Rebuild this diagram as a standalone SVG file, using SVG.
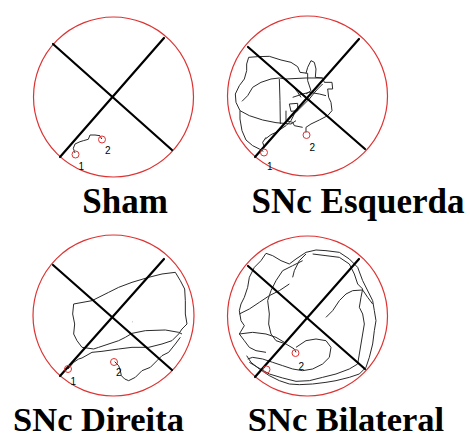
<svg xmlns="http://www.w3.org/2000/svg" width="470" height="437" viewBox="0 0 470 437">
<style>
.arena{fill:none;stroke:#dd3333;stroke-width:1.2}
.cross{stroke:#000;stroke-width:2.2;stroke-linecap:round}
.trace{fill:none;stroke:#2a2a2a;stroke-width:1;stroke-linejoin:round;vector-effect:non-scaling-stroke}
.mark{fill:none;stroke:#dd3333;stroke-width:1}
.num{font-family:"Liberation Sans",Arial,sans-serif;font-size:10px;fill:#000}
.title{font-family:"Liberation Serif","Times New Roman",serif;font-weight:bold;font-size:35px;fill:#000;text-anchor:middle}
.low{font-size:34.5px}
</style>
<rect width="470" height="437" fill="#fff"/>

<g id="sham">
<circle class="arena" cx="113.5" cy="97" r="80"/>
<line class="cross" x1="53" y1="44" x2="172" y2="150"/>
<line class="cross" x1="164" y1="38" x2="60" y2="157"/>
<path class="trace" d="M75,153 L73.3,148.3 L75,144 L80,141.7 L83.3,140.7 L88.3,139.3 L90,135 L95,135 L100,135.7 L101.7,139"/>
<circle class="mark" cx="75.5" cy="154.5" r="3.5"/>
<circle class="mark" cx="102" cy="139.5" r="3.5"/>
<text class="num" x="78.5" y="170">1</text>
<text class="num" x="105" y="154">2</text>
<text class="title" x="125" y="213">Sham</text>
</g>

<g id="snc-esquerda">
<circle class="arena" cx="307.5" cy="96" r="80"/>
<g transform="translate(226,14) scale(0.33333)">
<path class="trace" d="M112,412 L100,405 L80,395 L60,378 L48,350 L42,315 L42,290 L30,265 L28,240 L40,215 L55,195 L62,170 L62,150 L68,130 L95,128 L130,127 L165,138 L195,145 L215,158 L222,175 L245,178 L245,200 L255,230 L240,240"/>
<path class="trace" d="M42,290 L70,305 L110,318 L150,326 L195,330 L210,320"/>
<path class="trace" d="M48,262 L65,245 L80,220 L105,205 L135,195 L160,192 L180,195 L200,215 L215,235 L225,250"/>
<path class="trace" d="M160,195 L162,260 L163,330"/>
<path class="trace" d="M240,178 L245,160 L255,140 L265,145 L270,165 L268,190 L290,192 L295,205 L318,205 L320,225 L305,225 L308,250 L315,265 L318,290 L305,305 L280,318 L255,330 L240,340 L240,356"/>
<path class="trace" d="M180,195 L240,192 L290,192"/>
<path class="trace" d="M190,270 L215,268 L215,290 L195,292 Z M180,290 L180,320 L200,325 L205,335 L230,340"/>
<path class="trace" d="M118,375 L135,362 L150,355 L165,345 L180,335 L195,320 L205,300 L220,285 L235,270 L250,255 L262,240 L275,225 L290,210"/>
<path class="trace" d="M120,370 L110,385 L115,400"/>
<path class="trace" d="M200,250 L230,240 L250,235 L280,240 L300,245"/>
</g>
<line class="cross" x1="248" y1="47" x2="365" y2="149"/>
<line class="cross" x1="359" y1="39" x2="255" y2="157"/>
<circle class="mark" cx="264" cy="152.5" r="3.5"/>
<circle class="mark" cx="306.5" cy="135" r="3.5"/>
<text class="num" x="267" y="170">1</text>
<text class="num" x="309.5" y="151">2</text>
<text class="title" x="358" y="213">SNc Esquerda</text>
</g>

<g id="snc-direita">
<circle class="arena" cx="113.5" cy="315.5" r="80.5"/>
<g transform="translate(32,234) scale(0.33333)">
<path class="trace" d="M125,210 L180,200 L230,175 L260,160 L300,145 L350,130 L390,120 L430,115 L445,140 L458,165 L460,200 L460,240 L465,270 L450,285 L440,300 L420,320 L390,330 L350,340 L300,340 L260,345 L210,352 L180,355 L150,372 L140,375 L125,385 L108,405"/>
<path class="trace" d="M125,210 L122,240 L128,270 L125,300 L135,320 L150,340 L185,345 L200,340 L260,320 L280,310 L300,298 L340,290 L400,288 L440,295 L450,300"/>
<path class="trace" d="M248,383 L260,395 L265,410 L268,425 L278,435 L290,440 L310,430 L330,410 L355,400 L375,380 L390,365 L410,355 L430,330 L445,310"/>
<path class="trace" d="M300,262 L301,263"/>
</g>
<line class="cross" x1="53" y1="265" x2="172" y2="370"/>
<line class="cross" x1="164" y1="259" x2="60" y2="376"/>
<circle class="mark" cx="68" cy="369" r="3.5"/>
<circle class="mark" cx="114" cy="362" r="3.5"/>
<text class="num" x="70.5" y="385">1</text>
<text class="num" x="116" y="376" font-size="8">2</text>
<text class="title low" x="98.5" y="430.5">SNc Direita</text>
</g>

<g id="snc-bilateral">
<circle class="arena" cx="307.5" cy="316" r="80"/>
<g transform="translate(226,234) scale(0.33333)">
<path class="trace" d="M120,58 L140,65 L165,80 L190,90 L210,75 L240,55 L270,48 L300,50 L340,55 L370,75 L395,100 L410,140 L430,180 L440,200 L445,230 L450,260 L445,290 L440,330 L430,370 L420,400 L400,420 L370,430 L330,440 L300,445 L260,450 L220,452 L190,450 L160,440 L130,425 L100,405 L75,385 L62,365"/>
<path class="trace" d="M120,58 L105,80 L85,100 L70,130 L65,160 L55,190 L45,210 L40,230 L45,260 L55,275 L40,300 L55,320 L70,340 L90,350 L120,355"/>
<path class="trace" d="M230,80 L200,95 L170,110 L150,140 L135,170 L125,200 L130,240 L128,270 L135,300 L150,320 L180,330 L205,345 L210,355"/>
<path class="trace" d="M260,60 L300,65 L340,70 L370,90 L385,120 L395,150 L410,165 L405,190 L400,220 L410,240 L415,270 L410,300 L405,330 L400,360 L395,390 L370,405 L330,420 L290,430 L250,440 L210,442 L170,432 L130,420 L95,400 L70,385"/>
<path class="trace" d="M210,340 L240,320 L270,315 L300,320 L315,340 L310,370 L290,390 L260,405 L230,410 L200,405 L170,395 L140,385 L110,375 L80,370 L65,375"/>
<path class="trace" d="M40,300 L80,295 L120,300 L150,310 L175,325"/>
<path class="trace" d="M40,240 L70,225 L100,205 L130,185 L160,170 L190,150"/>
<path class="trace" d="M300,250 L320,230 L340,200 L360,180 L380,170 L410,168 L425,190 L440,210"/>
<path class="trace" d="M240,60 L220,80 L205,110 L200,130"/>
</g>
<line class="cross" x1="248" y1="266" x2="365" y2="369"/>
<line class="cross" x1="359" y1="259" x2="255" y2="377"/>
<circle class="mark" cx="266.5" cy="369.5" r="3.5"/>
<circle class="mark" cx="295.5" cy="353" r="3.5"/>
<text class="num" x="298.5" y="370">2</text>
<text class="title low" x="346" y="430.5">SNc Bilateral</text>
</g>
</svg>
